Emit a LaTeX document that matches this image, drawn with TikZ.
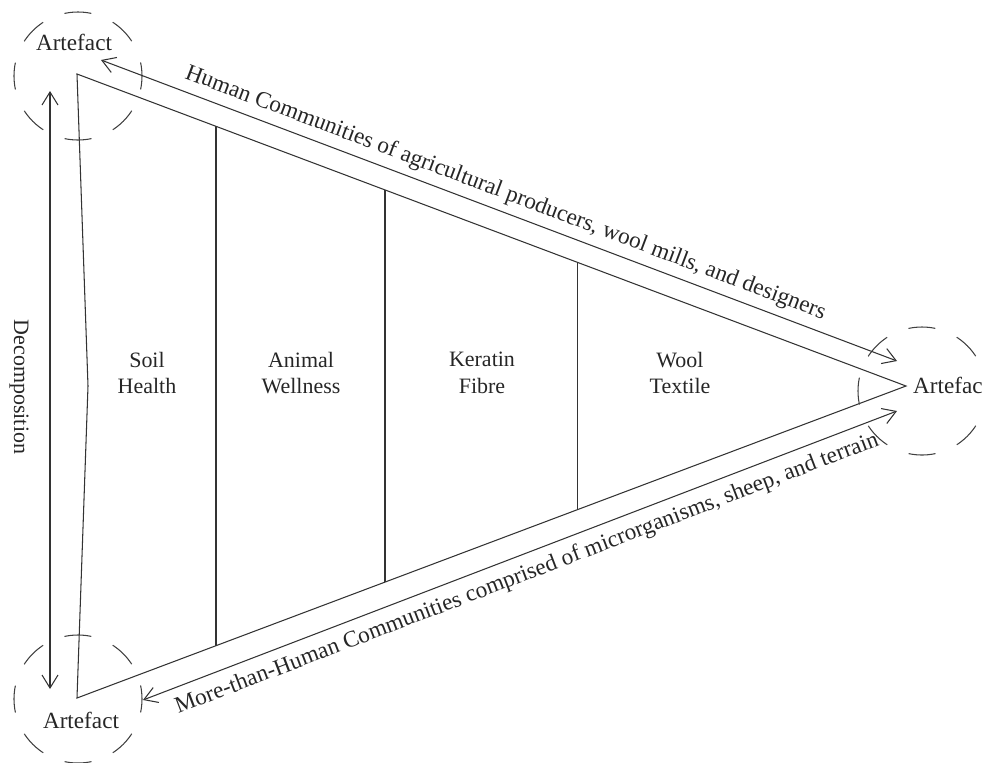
\documentclass[tikz,border=0pt]{standalone}
\usepackage{fontspec}
\setmainfont{Liberation Serif}
\usetikzlibrary{arrows.meta,calc}

\tikzset{
  stroke/.style={line width=0.6pt, draw=black!80},
  flow/.style={stroke, {Straight Barb[length=2.6mm,width=3.2mm]}-{Straight Barb[length=2.6mm,width=3.2mm]}},
  halo/.style={line width=0.6pt, draw=black!75, dash pattern=on 15.4pt off 13.2pt, dash phase=7.7pt},
  stagetext/.style={font=\fontsize{12.5}{15}\selectfont, align=center, text=black!85, inner sep=1pt},
  flowtext/.style={stagetext, font=\fontsize{13.2}{16}\selectfont},
}

\begin{document}
\begin{tikzpicture}[x=0.02cm, y=-0.02cm]

    % canvas
    \useasboundingbox (0,0) rectangle (984,762);

    % constants
    \def\rhalo{64}

    % triangle corners
    \coordinate (tl) at (77,74);
    \coordinate (bl) at (77,698);
    \coordinate (rt) at (906,386);
    \coordinate (lm) at (88,386);

    % triangle
    \draw[stroke] (tl) -- (rt) -- (bl) -- (lm) -- cycle;

    % dividers
    \foreach \t in {0.1677, 0.3715, 0.6043} {
        \draw[stroke] ($(tl)!\t!(rt)$) -- ($(bl)!\t!(rt)$);
    }

    % stages
    \node[stagetext] (soil) at (147,373) {Soil\\Health};
    \node[stagetext] (animal) at (301,373) {Animal\\Wellness};
    \node[stagetext] (keratin) at (482,373) {Keratin\\Fibre};
    \node[stagetext] (wool) at (680,373) {Wool\\Textile};

    % artefacts
    \draw[halo] (78,76) circle [radius=\rhalo];
    \draw[halo] (78,699) circle [radius=\rhalo];
    \draw[halo] (922,391) circle [radius=\rhalo];

    \node[flowtext] (art1) at (74,42) {Artefact};
    \node[flowtext] (art2) at (81,720) {Artefact};
    \node[flowtext, anchor=west] (art3) at (911,385) {Artefac};

    % communities
    \coordinate (hs) at (101,60);
    \coordinate (he) at (897,361);
    \draw[flow] (hs) -- (he)
        node[midway, sloped, above=3pt, flowtext] {Human Communities of agricultural producers, wool mills, and designers};

    \coordinate (ms) at (143,700);
    \coordinate (me) at (897,411);
    \draw[flow] (ms) -- (me)
        node[midway, sloped, below=4pt, flowtext] {More-than-Human Communities comprised of microrganisms, sheep, and terrain};

    % decomposition
    \coordinate (ds) at (50,91);
    \coordinate (de) at (50,689);
    \draw[flow] (ds) -- (de);
    \node[stagetext, rotate=-90] (decomp) at (19,387) {Decomposition};

\end{tikzpicture}
\end{document}
